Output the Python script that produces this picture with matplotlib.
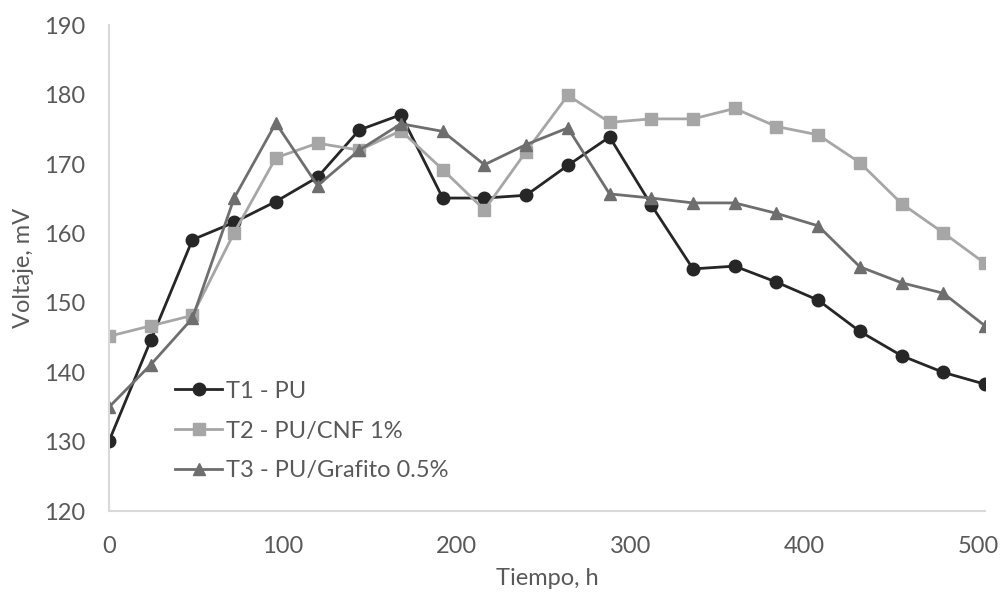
import matplotlib.pyplot as plt

# tiempo en horas (cada 24 h)
tiempo = [0, 24, 48, 72, 96, 120, 144, 168, 192, 216, 240, 264, 288, 312,
          336, 360, 384, 408, 432, 456, 480, 504]

t1_pu = [130.1, 144.6, 159.1, 161.6, 164.6, 168.1, 174.9, 177.1, 165.1, 165.1, 165.5,
         169.8, 173.9, 164.1, 154.9, 155.3, 153.0, 150.4, 145.9, 142.4, 140.0, 138.3]
t2_cnf = [145.2, 146.7, 148.2, 160.1, 170.9, 173.0, 172.0, 174.8, 169.2, 163.4, 171.8,
          179.9, 176.0, 176.5, 176.5, 178.0, 175.4, 174.2, 170.2, 164.3, 160.1, 155.7]
t3_graf = [135.0, 141.1, 147.8, 165.1, 175.9, 166.9, 172.0, 175.8, 174.7, 169.9, 172.8,
           175.2, 165.7, 165.1, 164.4, 164.4, 162.9, 161.1, 155.2, 152.9, 151.4, 146.7]

labels = ["T1 - PU", "T2 - PU/CNF 1%", "T3 - PU/Grafito 0.5%"]

plt.rcParams['font.family'] = ['Lato', 'DejaVu Sans']
txt = '#595959'
fs = 17

fig = plt.figure(figsize=(10, 5.98), dpi=100)
ax = fig.add_axes([0.109, 0.145, 0.876, 0.813])

ax.plot(tiempo, t1_pu, color='#262626', marker='o', markersize=9, linewidth=2, label=labels[0])
ax.plot(tiempo, t2_cnf, color='#a6a6a6', marker='s', markersize=9, linewidth=2, label=labels[1])
ax.plot(tiempo, t3_graf, color='#6e6e6e', marker='^', markersize=9, linewidth=2, label=labels[2])

ax.set_xlim(0, 504)
ax.set_ylim(120, 190)
ax.set_xticks([0, 100, 200, 300, 400, 500])
ax.set_yticks(range(120, 191, 10))
ax.tick_params(axis='y', length=0, labelsize=fs, colors=txt, pad=17)
ax.tick_params(axis='x', length=0, labelsize=fs, colors=txt, pad=18)

for s in ['top', 'right']:
    ax.spines[s].set_visible(False)
for s in ['left', 'bottom']:
    ax.spines[s].set_color('#d9d9d9')
    ax.spines[s].set_linewidth(1.5)

ax.set_xlabel("Tiempo, h", fontsize=fs, color=txt, labelpad=8)
ax.set_ylabel("Voltaje, mV", fontsize=fs, color=txt, labelpad=7)

leg = ax.legend(loc='center left', bbox_to_anchor=(0.051, 0.165), frameon=False,
                fontsize=fs, labelcolor=txt, handlelength=2.0, handletextpad=0.15,
                labelspacing=0.8)

plt.savefig("out.png")
